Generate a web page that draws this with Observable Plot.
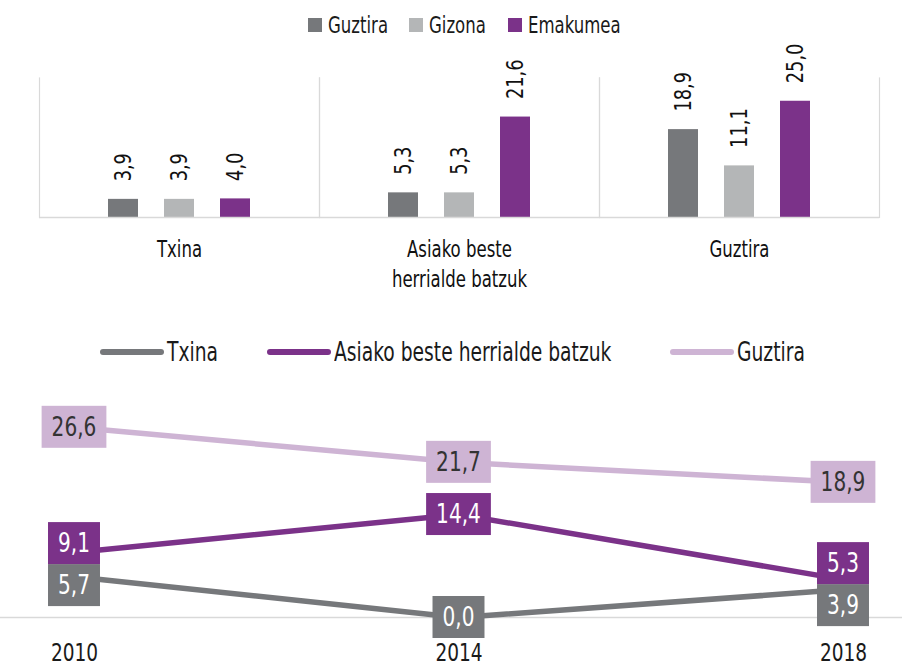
<!DOCTYPE html>
<html>
<head>
<meta charset="utf-8">
<script src="https://cdn.jsdelivr.net/npm/d3@7"></script>
<script src="https://cdn.jsdelivr.net/npm/@observablehq/plot@0.6"></script>
<style>
  body { margin: 0; background: #ffffff; }
  #wrap { position: relative; width: 902px; height: 665px; overflow: hidden; background: #fff;
          font-family: 'DejaVu Sans Condensed', sans-serif; color: #1a1a1a; }
  #bars { position: absolute; left: 0; top: 0; }
  #lines { position: absolute; left: 0; top: 300px; }
  .lgitem { position: absolute; display: flex; align-items: center; line-height: 1; white-space: nowrap; }
  .lgitem span { display: inline-block; transform: scaleX(0.8); transform-origin: left center; }
  #legend1 .lgitem { top: 11px; height: 28px; font-size: 23px; }
  #legend1 .sw { width: 14px; height: 14px; margin-right: 6px; flex: none; }
  #legend2 .lgitem { top: 337px; height: 30px; font-size: 26px; }
  #legend2 .sw { width: 64px; height: 6px; border-radius: 3px; margin-right: 3px; flex: none; }
</style>
</head>
<body>
<div id="wrap">
  <div id="bars"></div>
  <div id="lines"></div>
  <div id="legend1"></div>
  <div id="legend2"></div>
</div>
<script>
// ---------- data ----------
const barCategories = ["Txina", "Asiako beste herrialde batzuk", "Guztira"];
const barCategoryLabels = ["Txina", "Asiako beste\nherrialde batzuk", "Guztira"];
const barSeries = ["Guztira", "Gizona", "Emakumea"];
const barGuztira = [3.9, 5.3, 18.9];
const barGizona = [3.9, 5.3, 11.1];
const barEmakumea = [4.0, 21.6, 25.0];
const barColors = ["#76787b", "#b4b6b7", "#7b3289"];

const years = [2010, 2014, 2018];
const lineSeries = ["Txina", "Asiako beste herrialde batzuk", "Guztira"];
const lineTxina = [5.7, 0.0, 3.9];
const lineAsiako = [9.1, 14.4, 5.3];
const lineGuztira = [26.6, 21.7, 18.9];
const lineColors = ["#76787b", "#7b3289", "#ceb4d4"];
const lineLabelColors = ["#ffffff", "#ffffff", "#333333"];

// ---------- helpers ----------
const FONT = "'DejaVu Sans Condensed', sans-serif";
const WORD_SQUEEZE = 0.8, NUM_SQUEEZE = 0.86;
const fmt = v => v.toFixed(1).replace(".", ",");
const ctx2d = document.createElement("canvas").getContext("2d");
function measure(t, size) { ctx2d.font = `${size}px ${FONT}`; return ctx2d.measureText(t).width; }
// narrow every text along its own direction, around its anchor point,
// so the wide fallback font looks condensed like the original
function condense(svg) {
  svg.querySelectorAll("text").forEach(t => {
    const s = t.textContent;
    if (!s) return;
    const f = /^[\d,.\s]+$/.test(s) ? NUM_SQUEEZE : WORD_SQUEEZE;
    const ax = parseFloat(t.getAttribute("x")) || 0;
    const tr = t.getAttribute("transform") || "";
    t.setAttribute("transform", `${tr} translate(${ax},0) scale(${f},1) translate(${-ax},0)`.trim());
  });
}

// ---------- tables ----------
const barValues = [barGuztira, barGizona, barEmakumea];
const barData = [];
barCategories.forEach((c, ci) => barSeries.forEach((s, si) => barData.push({category: c, series: s, value: barValues[si][ci]})));

const lineValues = [lineTxina, lineAsiako, lineGuztira];
const lineData = [];
lineSeries.forEach((s, si) => years.forEach((y, yi) => lineData.push({series: s, year: y, value: lineValues[si][yi], si})));

// ---------- bar chart ----------
const bars = Plot.plot({
  width: 902, height: 300,
  marginLeft: 38, marginRight: 22, marginTop: 77.5, marginBottom: 83,
  style: {fontFamily: FONT, color: "#1a1a1a", background: "transparent", overflow: "visible"},
  fx: {domain: barCategories, padding: 0, axis: null},
  x: {domain: barSeries, paddingInner: 0.456, paddingOuter: 1.19, axis: null},
  y: {domain: [0, 30], axis: null},
  color: {domain: barSeries, range: barColors},
  marks: [
    Plot.frame({anchor: "left", stroke: "#d9d9d9", strokeWidth: 1.2}),
    Plot.frame({anchor: "right", stroke: "#d9d9d9", strokeWidth: 1.2}),
    Plot.barY(barData, {fx: "category", x: "series", y: "value", fill: "series"}),
    Plot.ruleY([0], {stroke: "#d9d9d9", strokeWidth: 1.6}),
    Plot.text(barData, {fx: "category", x: "series", y: "value", text: d => fmt(d.value),
      rotate: -90, textAnchor: "start", lineAnchor: "middle", dy: -18, fontSize: 23, fill: "#111"}),
    Plot.text(barCategories, {fx: d => d, text: d => barCategoryLabels[barCategories.indexOf(d)],
      frameAnchor: "bottom", lineAnchor: "top", dy: 18, fontSize: 23, lineHeight: 1.3, fill: "#111"})
  ]
});
document.getElementById("bars").appendChild(bars);
condense(bars);

// ---------- line chart ----------
const M = {left: 74, right: 59, top: 102.5, bottom: 48};
const boxH = 42, padX = 10, labelSize = 26;
const lines = Plot.plot({
  width: 902, height: 365,
  marginLeft: M.left, marginRight: M.right, marginTop: M.top, marginBottom: M.bottom,
  style: {fontFamily: FONT, color: "#1a1a1a", background: "transparent", overflow: "visible"},
  x: {domain: [years[0], years[years.length - 1]], axis: null},
  y: {domain: [0, 30], axis: null},
  color: {domain: lineSeries, range: lineColors},
  marks: [
    Plot.ruleY([0], {stroke: "#d9d9d9", strokeWidth: 1.6, insetLeft: -M.left, insetRight: -M.right}),
    Plot.axisX({ticks: years, tickFormat: d => String(d), tickSize: 0, tickPadding: 26, fontSize: 24, label: null, fill: "#1a1a1a"}),
    Plot.line(lineData, {x: "year", y: "value", stroke: "series", strokeWidth: 5.5}),
    Plot.text(lineData, {x: "year", y: "value", text: d => fmt(d.value),
      render(index, scales, values) {
        const X = values.x, Y = values.y;
        const CY = Float64Array.from(Y);
        for (const yr of years) {
          const ids = Array.from(index).filter(i => lineData[i].year === yr).sort((a, b) => Y[a] - Y[b]);
          for (let k = 0; k < ids.length - 1; k++) {
            const a = ids[k], b = ids[k + 1];
            if (CY[b] - CY[a] < boxH) {
              const m = (Y[a] + Y[b]) / 2;
              CY[a] = m - boxH / 2; CY[b] = m + boxH / 2;
            }
          }
        }
        const g = d3.create("svg:g");
        for (const i of index) {
          const d = lineData[i];
          const t = fmt(d.value);
          const w = measure(t, labelSize) * NUM_SQUEEZE + 2 * padX;
          g.append("rect").attr("x", X[i] - w / 2).attr("y", CY[i] - boxH / 2)
            .attr("width", w).attr("height", boxH).attr("fill", lineColors[d.si]);
          g.append("text").attr("x", X[i]).attr("y", CY[i]).attr("dy", "0.36em")
            .attr("text-anchor", "middle").attr("font-size", labelSize)
            .attr("fill", lineLabelColors[d.si]).text(t);
        }
        return g.node();
      }})
  ]
});
document.getElementById("lines").appendChild(lines);
condense(lines);

// ---------- legends ----------
const lg1 = d3.select("#legend1");
const lg1Left = [308, 409, 508];
barSeries.forEach((s, i) => {
  const it = lg1.append("div").attr("class", "lgitem").style("left", lg1Left[i] + "px");
  it.append("div").attr("class", "sw").style("background", barColors[i]);
  it.append("span").text(s);
});
const lg2 = d3.select("#legend2");
const lg2Left = [100, 267, 670];
lineSeries.forEach((s, i) => {
  const it = lg2.append("div").attr("class", "lgitem").style("left", lg2Left[i] + "px");
  it.append("div").attr("class", "sw").style("background", lineColors[i]);
  it.append("span").text(s);
});
</script>
</body>
</html>
